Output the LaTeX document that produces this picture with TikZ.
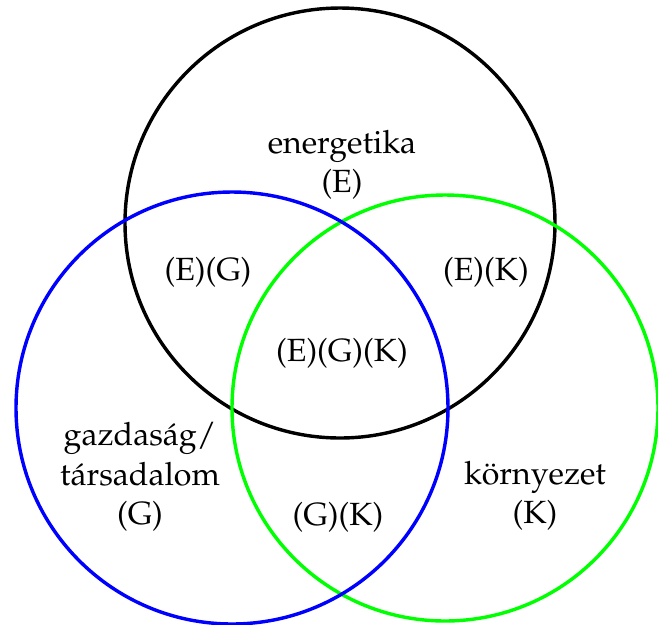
\documentclass[tikz,border=0pt]{standalone}
\usepackage[T1]{fontenc}
\usepackage{mathpazo}
\usepackage{tikz}
\definecolor{gblue}{RGB}{0,0,255}
\definecolor{kgreen}{RGB}{0,255,0}

\begin{document}
\begin{tikzpicture}[x=0.38pt,y=-0.38pt,
 ring/.style={line width=1.3pt},
 lab/.style={align=center,font=\fontsize{12.2}{15}\selectfont,inner sep=1pt}]
\useasboundingbox (0,0) rectangle (658,624);
% circle centres
\coordinate (cE) at (340,223);
\coordinate (cG) at (232,408);
\coordinate (cK) at (445,408);
\draw[ring,black] (cE) circle[radius=215];
\draw[ring,kgreen] (cK) circle[radius=213];
\draw[ring,gblue] (cG) circle[radius=216];
% region labels
\node[lab] (e) at (342,165) {energetika\\(E)};
\node[lab] (eg) at (208,272) {(E)(G)};
\node[lab] (ek) at (486,272) {(E)(K)};
\node[lab] (egk) at (342,353) {(E)(G)(K)};
\node[lab] (g) at (140,477) {gazdas\'ag/\\t\'arsadalom\\(G)};
\node[lab] (gk) at (338,517) {(G)(K)};
\node[lab] (k) at (535,496) {k\"ornyezet\\(K)};
\end{tikzpicture}
\end{document}
